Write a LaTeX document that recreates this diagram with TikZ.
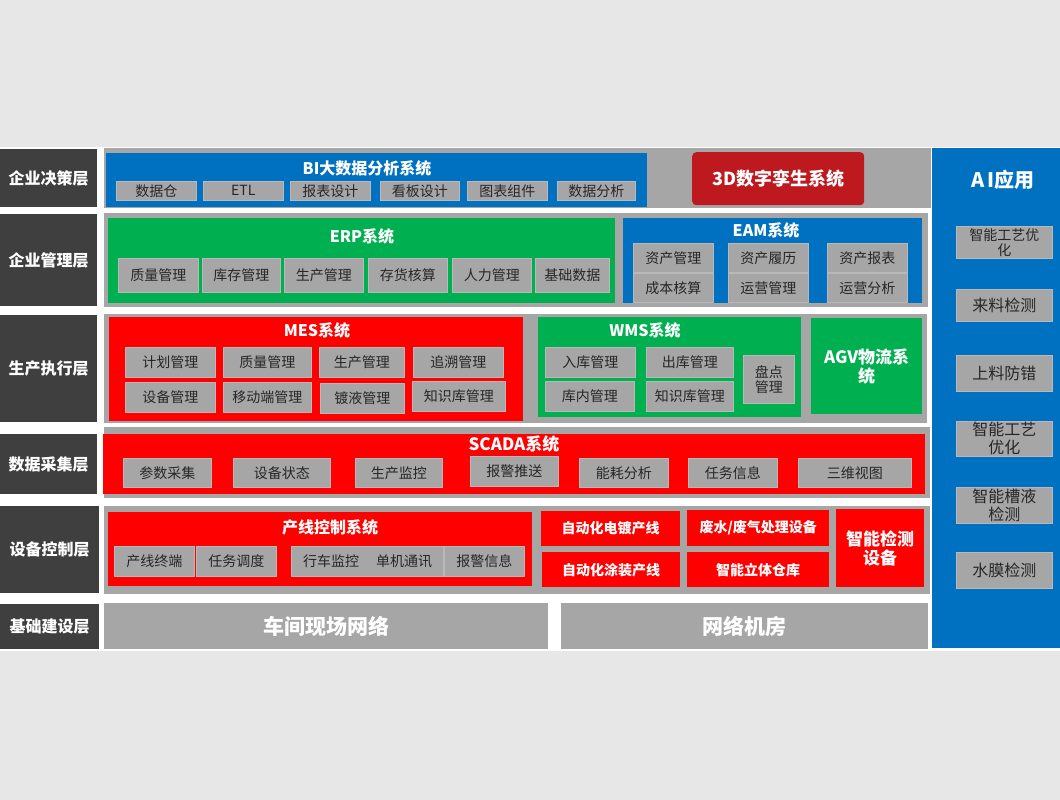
\documentclass[tikz,border=0pt]{standalone}
\usepackage{fontspec}
\setmainfont{Noto Sans CJK SC}
\definecolor{bgc}{HTML}{E7E7E7}
\definecolor{labc}{HTML}{3F3F3F}
\definecolor{panc}{HTML}{A6A6A6}
\definecolor{itmc}{HTML}{A6A6A6}
\definecolor{itmb}{HTML}{B8B8B8}
\definecolor{txtc}{HTML}{262626}
\definecolor{bluc}{HTML}{0070C0}
\definecolor{grnc}{HTML}{00B050}
\definecolor{redc}{HTML}{FF0000}
\definecolor{dredc}{HTML}{BF1920}
\newcommand\mybox[7]{\node[#6, anchor=north west, inner sep=0pt, minimum width={(#4-#2)*1pt}, minimum height={(#5-#3)*1pt}] (#1) at (#2,#3) {#7};}
\begin{document}
\begin{tikzpicture}[x=1pt,y=-1pt,
  lab/.style={fill=labc, text=white, font=\fontsize{16}{18}\selectfont\bfseries},
  pan/.style={fill=panc},
  itm/.style={fill=itmc, draw=itmb, line width=0.6pt, text=txtc, font=\fontsize{14}{16}\selectfont},
  aitm/.style={fill=itmc, draw=itmb, line width=0.6pt, text=txtc, align=center, font=\fontsize{16}{18}\selectfont},
  ttl/.style={text=white, inner sep=0pt, font=\fontsize{16}{18}\selectfont\bfseries},
  bluebox/.style={fill=bluc},
  greenbox/.style={fill=grnc},
  redbox/.style={fill=redc},
  reditm/.style={fill=redc, text=white, font=\fontsize{14}{16}\selectfont\bfseries},
  netbox/.style={fill=panc, text=white, font=\fontsize{21}{24}\selectfont\bfseries}
]
\useasboundingbox (0,0) rectangle (1060,800);
\fill[bgc] (0,0) rectangle (1060,800);
\fill[white] (0,147) rectangle (1060,651);

% layer labels
\mybox{l1}{0}{149}{97}{207}{lab}{企业决策层}
\mybox{l2}{0}{214}{97}{306}{lab}{企业管理层}
\mybox{l3}{0}{315}{97}{422}{lab}{生产执行层}
\mybox{l4}{0}{434}{97}{494}{lab}{数据采集层}
\mybox{l5}{0}{506}{99}{593}{lab}{设备控制层}
\mybox{l6}{0}{604}{99}{649}{lab}{基础建设层}

% gray panels
\mybox{p1}{104}{148}{931}{208}{pan}{}
\mybox{p2}{104}{213}{928}{307}{pan}{}
\mybox{p3}{104}{314}{927}{423}{pan}{}
\mybox{p4}{104}{427}{930}{498}{pan}{}
\mybox{p5}{104}{506}{930}{594}{pan}{}
\mybox{p6a}{104}{603}{548}{649}{netbox}{车间现场网络}
\mybox{p6b}{561}{603}{928}{649}{netbox}{网络机房}

% AI panel
\mybox{ai}{932}{148}{1060}{648}{bluebox}{}
\node[text=white, font=\fontsize{20}{22}\selectfont\bfseries] (ait) at (1003,180) {A\,I应用};
\mybox{a1}{956}{226}{1052}{258}{aitm,font=\fontsize{14}{15}\selectfont}{智能工艺优\\化}
\mybox{a2}{956}{289}{1052}{321}{aitm}{来料检测}
\mybox{a3}{956}{355}{1052}{391}{aitm}{上料防错}
\mybox{a4}{956}{421}{1052}{456}{aitm}{智能工艺\\优化}
\mybox{a5}{956}{487}{1052}{523}{aitm}{智能槽液\\检测}
\mybox{a6}{956}{552}{1052}{588}{aitm}{水膜检测}

% row 1
\mybox{bi}{106}{153}{647}{207}{bluebox}{}
\node[ttl] (bit) at (367,168) {BI大数据分析系统};
\mybox{b1}{116}{181}{196}{200}{itm}{数据仓}
\mybox{b2}{203}{181}{283}{200}{itm}{ETL}
\mybox{b3}{290}{181}{370}{200}{itm}{报表设计}
\mybox{b4}{380}{181}{459}{200}{itm}{看板设计}
\mybox{b5}{467}{181}{547}{200}{itm}{图表组件}
\mybox{b6}{557}{181}{635}{200}{itm}{数据分析}
\fill[black!35, rounded corners=4pt] (694,155) rectangle (866,207);
\mybox{tw}{692}{152}{864}{205}{fill=dredc, rounded corners=4pt, text=white, font=\fontsize{18}{20}\selectfont\bfseries}{3D数字孪生系统}

% row 2
\mybox{erp}{108}{218}{615}{303}{greenbox}{}
\node[ttl] (erpt) at (362,236) {ERP系统};
\mybox{e1}{118}{258}{198}{292}{itm}{质量管理}
\mybox{e2}{202}{258}{280}{292}{itm}{库存管理}
\mybox{e3}{284}{258}{363}{292}{itm}{生产管理}
\mybox{e4}{368}{258}{447}{292}{itm}{存货核算}
\mybox{e5}{452}{258}{531}{292}{itm}{人力管理}
\mybox{e6}{535}{258}{609}{292}{itm}{基础数据}
\mybox{eam}{623}{218}{922}{303}{bluebox}{}
\node[ttl] (eamt) at (766,230) {EAM系统};
\mybox{m1}{633}{243}{713}{272}{itm}{资产管理}
\mybox{m2}{728}{243}{808}{272}{itm}{资产履历}
\mybox{m3}{827}{243}{907}{272}{itm}{资产报表}
\mybox{m4}{633}{273}{713}{302}{itm}{成本核算}
\mybox{m5}{728}{273}{808}{302}{itm}{运营管理}
\mybox{m6}{827}{273}{907}{302}{itm}{运营分析}

% row 3
\mybox{mes}{109}{317}{523}{421}{redbox}{}
\node[ttl] (mest) at (317,330) {MES系统};
\mybox{s1}{125}{347}{215}{377}{itm}{计划管理}
\mybox{s2}{223}{347}{311}{377}{itm}{质量管理}
\mybox{s3}{319}{347}{404}{377}{itm}{生产管理}
\mybox{s4}{413}{347}{503}{377}{itm}{追溯管理}
\mybox{s5}{125}{382}{215}{412}{itm}{设备管理}
\mybox{s6}{223}{382}{311}{412}{itm}{移动端管理}
\mybox{s7}{320}{383}{404}{413}{itm}{镀液管理}
\mybox{s8}{412}{381}{505}{411}{itm}{知识库管理}
\mybox{wms}{538}{317}{801}{417}{greenbox}{}
\node[ttl] (wmst) at (645,330) {WMS系统};
\mybox{w1}{545}{347}{635}{377}{itm}{入库管理}
\mybox{w2}{646}{347}{733}{377}{itm}{出库管理}
\mybox{w3}{545}{381}{634}{411}{itm}{库内管理}
\mybox{w4}{646}{381}{733}{411}{itm}{知识库管理}
\mybox{w5}{743}{355}{794}{403}{itm,align=center,font=\fontsize{14}{15}\selectfont}{盘点\\管理}
\mybox{agv}{811}{318}{922}{414}{greenbox,text=white,align=center,font=\fontsize{17}{19}\selectfont\bfseries}{AGV物流系\\统}

% row 4
\mybox{sc}{103}{434}{925}{494}{redbox}{}
\node[ttl,font=\fontsize{17}{19}\selectfont\bfseries] (sct) at (514,444) {SCADA系统};
\mybox{c1}{123}{458}{211}{487}{itm}{参数采集}
\mybox{c2}{233}{458}{330}{487}{itm}{设备状态}
\mybox{c3}{355}{458}{442}{487}{itm}{生产监控}
\mybox{c4}{470}{456}{558}{486}{itm}{报警推送}
\mybox{c5}{579}{458}{668}{487}{itm}{能耗分析}
\mybox{c6}{688}{458}{777}{487}{itm}{任务信息}
\mybox{c7}{798}{458}{911}{487}{itm}{三维视图}

% row 5
\mybox{plc}{108}{512}{532}{586}{redbox}{}
\node[ttl] (plct) at (330,527) {产线控制系统};
\mybox{k1}{114}{546}{194}{576}{itm}{产线终端}
\mybox{k2}{196}{546}{276}{576}{itm}{任务调度}
\mybox{k3}{291}{546}{443}{576}{itm}{}
\node[text=txtc, font=\fontsize{14}{16}\selectfont] (k3a) at (331,561) {行车监控};
\node[text=txtc, font=\fontsize{14}{16}\selectfont] (k3b) at (404,561) {单机通讯};
\mybox{k4}{444}{546}{524}{576}{itm}{报警信息}
\mybox{r1}{541}{511}{680}{546}{reditm}{自动化电镀产线}
\mybox{r2}{542}{552}{680}{587}{reditm}{自动化涂装产线}
\mybox{r3}{687}{510}{829}{546}{reditm}{废水/废气处理设备}
\mybox{r4}{687}{552}{829}{587}{reditm}{智能立体仓库}
\mybox{r5}{836}{509}{924}{587}{reditm,align=center,font=\fontsize{17}{19}\selectfont\bfseries}{智能检测\\设备}
\end{tikzpicture}
\end{document}
